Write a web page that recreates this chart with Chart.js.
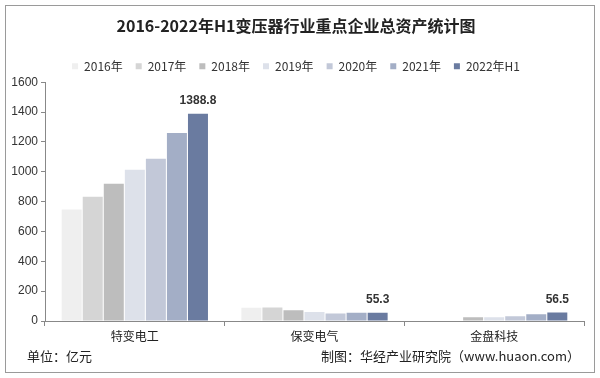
<!DOCTYPE html>
<html>
<head>
<meta charset="utf-8">
<script src="https://cdn.jsdelivr.net/npm/chart.js@4/dist/chart.umd.min.js"></script>
<style>
  html, body { margin: 0; padding: 0; background: #fff; }
  #wrap { width: 600px; height: 378px; position: relative; }
</style>
</head>
<body>
<div id="wrap"><canvas id="chart" width="600" height="378"></canvas></div>
<script>
// companies on the x axis
const companies = ['特变电工', '保变电气', '金盘科技'];
const yearLabels = ['2016年', '2017年', '2018年', '2019年', '2020年', '2021年', '2022年H1'];

// total assets, 亿元, one array per year
const y2016 = [747, 88, null];
const y2017 = [833, 90, null];
const y2018 = [920, 72, 25];
const y2019 = [1013, 60, 25];
const y2020 = [1087, 50, 31];
const y2021 = [1260, 56, 45];
const y2022H1 = [1388.8, 55.3, 56.5];

const seriesColors = ['#efefef', '#d5d5d5', '#bdbdbd', '#dde1ea', '#c2c8d8', '#a3aec6', '#6a7ba0'];
const yTicks = [0, 200, 400, 600, 800, 1000, 1200, 1400, 1600];

const allSeries = [y2016, y2017, y2018, y2019, y2020, y2021, y2022H1];

const cjk = '"Noto Sans CJK SC", "Noto Sans", sans-serif';
const latin = '"Liberation Sans", Arial, sans-serif';

// frame, footnotes, and value labels on the last series
const extras = {
    id: 'extras',
    afterDraw(chart) {
        const ctx = chart.ctx;
        ctx.save();
        ctx.strokeStyle = '#9a9a9a';
        ctx.lineWidth = 1;
        ctx.strokeRect(5.5, 5.5, 589, 367);

        ctx.fillStyle = '#222';
        ctx.font = '13px ' + cjk;
        ctx.textBaseline = 'middle';
        ctx.textAlign = 'left';
        ctx.fillText('单位：亿元', 27, 356);
        ctx.textAlign = 'right';
        ctx.fillText('制图：华经产业研究院（www.huaon.com）', 580, 356);

        const last = chart.data.datasets.length - 1;
        const meta = chart.getDatasetMeta(last);
        ctx.font = 'bold 12px ' + latin;
        ctx.fillStyle = '#333';
        ctx.textAlign = 'center';
        ctx.textBaseline = 'bottom';
        meta.data.forEach((bar, i) => {
            const v = chart.data.datasets[last].data[i];
            if (v == null) return;
            ctx.fillText(v.toFixed(1), bar.x, bar.y - 7);
        });
        ctx.restore();
    }
};

new Chart(document.getElementById('chart'), {
    type: 'bar',
    data: {
        labels: companies,
        datasets: allSeries.map((data, i) => ({
            label: yearLabels[i],
            data: data,
            backgroundColor: seriesColors[i],
            borderWidth: 0,
            categoryPercentage: 0.82,
            barPercentage: 0.95
        }))
    },
    options: {
        responsive: false,
        animation: false,
        layout: { padding: { left: 8, right: 16, top: 8, bottom: 0 } },
        plugins: {
            title: {
                display: true,
                text: '2016-2022年H1变压器行业重点企业总资产统计图',
                color: '#222',
                font: { family: cjk, size: 16, weight: 'bold' },
                padding: { top: 8, bottom: 12 }
            },
            legend: {
                position: 'top',
                labels: {
                    color: '#333',
                    font: { family: cjk, size: 12 },
                    boxWidth: 6,
                    boxHeight: 6,
                    padding: 13
                }
            },
            tooltip: { enabled: false }
        },
        scales: {
            x: {
                grid: { offset: true, drawOnChartArea: false, tickLength: 5, color: '#888' },
                border: { color: '#888' },
                ticks: { color: '#222', font: { family: cjk, size: 12 }, padding: 3 },
                afterFit: s => { s.height = 57; }
            },
            y: {
                min: 0,
                max: 1600,
                afterBuildTicks: s => { s.ticks = yTicks.map(v => ({ value: v })); },
                grid: { display: true, drawOnChartArea: false, tickLength: 4, color: '#888' },
                border: { color: '#888' },
                ticks: {
                    color: '#333',
                    font: { family: latin, size: 12 },
                    padding: 3,
                    callback: v => String(v)
                },
                afterFit: s => { s.width = 37; }
            }
        }
    },
    plugins: [extras]
});
</script>
</body>
</html>
